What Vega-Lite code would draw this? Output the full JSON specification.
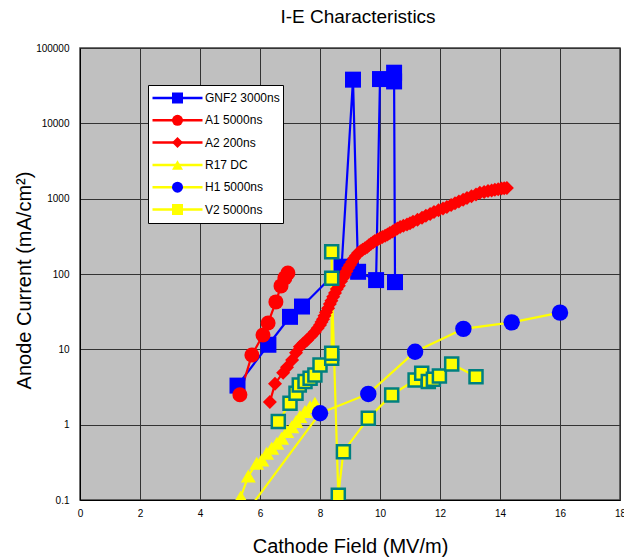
{
  "$schema": "https://vega.github.io/schema/vega-lite/v6.json",
  "autosize": {"type": "none"},
  "width": 540,
  "height": 452,
  "padding": {"left": 80, "top": 48, "right": 4, "bottom": 60},
  "background": "#FFFFFF",
  "title": {"text": "I-E Characteristics", "fontSize": 19, "font": "Liberation Sans", "fontWeight": "normal", "color": "#000000", "anchor": "middle", "frame": "group", "offset": 1, "baseline": "alphabetic", "dx": 8},
  "data": {"values": [
    {"s": "GNF2 3000ns", "i": 1, "x": 5.25, "y": 3.3},
    {"s": "GNF2 3000ns", "i": 2, "x": 6.28, "y": 11.5},
    {"s": "GNF2 3000ns", "i": 3, "x": 7.0, "y": 27},
    {"s": "GNF2 3000ns", "i": 4, "x": 7.4, "y": 37},
    {"s": "GNF2 3000ns", "i": 5, "x": 8.72, "y": 125},
    {"s": "GNF2 3000ns", "i": 6, "x": 9.1, "y": 38000},
    {"s": "GNF2 3000ns", "i": 7, "x": 9.27, "y": 107},
    {"s": "GNF2 3000ns", "i": 8, "x": 9.87, "y": 83},
    {"s": "GNF2 3000ns", "i": 9, "x": 10.0, "y": 38700},
    {"s": "GNF2 3000ns", "i": 10, "x": 10.47, "y": 47000},
    {"s": "GNF2 3000ns", "i": 11, "x": 10.47, "y": 36000},
    {"s": "GNF2 3000ns", "i": 12, "x": 10.5, "y": 78},
    {"s": "A1 5000ns", "i": 1, "x": 5.33, "y": 2.5},
    {"s": "A1 5000ns", "i": 2, "x": 5.73, "y": 8.4},
    {"s": "A1 5000ns", "i": 3, "x": 6.1, "y": 15.5},
    {"s": "A1 5000ns", "i": 4, "x": 6.27, "y": 22.4},
    {"s": "A1 5000ns", "i": 5, "x": 6.53, "y": 42.6},
    {"s": "A1 5000ns", "i": 6, "x": 6.7, "y": 69.5},
    {"s": "A1 5000ns", "i": 7, "x": 6.83, "y": 88.7},
    {"s": "A1 5000ns", "i": 8, "x": 6.93, "y": 103},
    {"s": "A2 200ns", "i": 1, "x": 6.33, "y": 2.0},
    {"s": "A2 200ns", "i": 2, "x": 6.5, "y": 3.5},
    {"s": "A2 200ns", "i": 3, "x": 6.77, "y": 4.9},
    {"s": "A2 200ns", "i": 4, "x": 6.9, "y": 5.8},
    {"s": "A2 200ns", "i": 5, "x": 7.07, "y": 7.2},
    {"s": "A2 200ns", "i": 6, "x": 7.2, "y": 9.0},
    {"s": "A2 200ns", "i": 7, "x": 7.33, "y": 10.8},
    {"s": "A2 200ns", "i": 8, "x": 7.45, "y": 12},
    {"s": "A2 200ns", "i": 9, "x": 7.57, "y": 13.3},
    {"s": "A2 200ns", "i": 10, "x": 7.7, "y": 15},
    {"s": "A2 200ns", "i": 11, "x": 7.83, "y": 17},
    {"s": "A2 200ns", "i": 12, "x": 7.92, "y": 19},
    {"s": "A2 200ns", "i": 13, "x": 8.0, "y": 21},
    {"s": "A2 200ns", "i": 14, "x": 8.05, "y": 23},
    {"s": "A2 200ns", "i": 15, "x": 8.1, "y": 25},
    {"s": "A2 200ns", "i": 16, "x": 8.15, "y": 28},
    {"s": "A2 200ns", "i": 17, "x": 8.2, "y": 31},
    {"s": "A2 200ns", "i": 18, "x": 8.27, "y": 35},
    {"s": "A2 200ns", "i": 19, "x": 8.33, "y": 40},
    {"s": "A2 200ns", "i": 20, "x": 8.38, "y": 44},
    {"s": "A2 200ns", "i": 21, "x": 8.44, "y": 50},
    {"s": "A2 200ns", "i": 22, "x": 8.5, "y": 56},
    {"s": "A2 200ns", "i": 23, "x": 8.56, "y": 63},
    {"s": "A2 200ns", "i": 24, "x": 8.63, "y": 70},
    {"s": "A2 200ns", "i": 25, "x": 8.7, "y": 80},
    {"s": "A2 200ns", "i": 26, "x": 8.77, "y": 89},
    {"s": "A2 200ns", "i": 27, "x": 8.83, "y": 98},
    {"s": "A2 200ns", "i": 28, "x": 8.88, "y": 108},
    {"s": "A2 200ns", "i": 29, "x": 8.94, "y": 120},
    {"s": "A2 200ns", "i": 30, "x": 9.0, "y": 132},
    {"s": "A2 200ns", "i": 31, "x": 9.07, "y": 145},
    {"s": "A2 200ns", "i": 32, "x": 9.13, "y": 160},
    {"s": "A2 200ns", "i": 33, "x": 9.2, "y": 175},
    {"s": "A2 200ns", "i": 34, "x": 9.27, "y": 190},
    {"s": "A2 200ns", "i": 35, "x": 9.35, "y": 200},
    {"s": "A2 200ns", "i": 36, "x": 9.42, "y": 210},
    {"s": "A2 200ns", "i": 37, "x": 9.5, "y": 220},
    {"s": "A2 200ns", "i": 38, "x": 9.57, "y": 229},
    {"s": "A2 200ns", "i": 39, "x": 9.63, "y": 240},
    {"s": "A2 200ns", "i": 40, "x": 9.7, "y": 252},
    {"s": "A2 200ns", "i": 41, "x": 9.77, "y": 263},
    {"s": "A2 200ns", "i": 42, "x": 9.83, "y": 275},
    {"s": "A2 200ns", "i": 43, "x": 9.92, "y": 287},
    {"s": "A2 200ns", "i": 44, "x": 10.0, "y": 298},
    {"s": "A2 200ns", "i": 45, "x": 10.08, "y": 310},
    {"s": "A2 200ns", "i": 46, "x": 10.17, "y": 321},
    {"s": "A2 200ns", "i": 47, "x": 10.25, "y": 335},
    {"s": "A2 200ns", "i": 48, "x": 10.33, "y": 350},
    {"s": "A2 200ns", "i": 49, "x": 10.42, "y": 367},
    {"s": "A2 200ns", "i": 50, "x": 10.5, "y": 385},
    {"s": "A2 200ns", "i": 51, "x": 10.58, "y": 403},
    {"s": "A2 200ns", "i": 52, "x": 10.67, "y": 422},
    {"s": "A2 200ns", "i": 53, "x": 10.78, "y": 438},
    {"s": "A2 200ns", "i": 54, "x": 10.9, "y": 455},
    {"s": "A2 200ns", "i": 55, "x": 11.0, "y": 473},
    {"s": "A2 200ns", "i": 56, "x": 11.1, "y": 492},
    {"s": "A2 200ns", "i": 57, "x": 11.25, "y": 525},
    {"s": "A2 200ns", "i": 58, "x": 11.4, "y": 560},
    {"s": "A2 200ns", "i": 59, "x": 11.53, "y": 594},
    {"s": "A2 200ns", "i": 60, "x": 11.67, "y": 628},
    {"s": "A2 200ns", "i": 61, "x": 11.8, "y": 663},
    {"s": "A2 200ns", "i": 62, "x": 11.95, "y": 700},
    {"s": "A2 200ns", "i": 63, "x": 12.1, "y": 740},
    {"s": "A2 200ns", "i": 64, "x": 12.23, "y": 778},
    {"s": "A2 200ns", "i": 65, "x": 12.37, "y": 823},
    {"s": "A2 200ns", "i": 66, "x": 12.5, "y": 870},
    {"s": "A2 200ns", "i": 67, "x": 12.63, "y": 917},
    {"s": "A2 200ns", "i": 68, "x": 12.77, "y": 964},
    {"s": "A2 200ns", "i": 69, "x": 12.9, "y": 1020},
    {"s": "A2 200ns", "i": 70, "x": 13.05, "y": 1080},
    {"s": "A2 200ns", "i": 71, "x": 13.2, "y": 1140},
    {"s": "A2 200ns", "i": 72, "x": 13.33, "y": 1194},
    {"s": "A2 200ns", "i": 73, "x": 13.47, "y": 1227},
    {"s": "A2 200ns", "i": 74, "x": 13.6, "y": 1260},
    {"s": "A2 200ns", "i": 75, "x": 13.72, "y": 1285},
    {"s": "A2 200ns", "i": 76, "x": 13.83, "y": 1309},
    {"s": "A2 200ns", "i": 77, "x": 13.94, "y": 1335},
    {"s": "A2 200ns", "i": 78, "x": 14.05, "y": 1360},
    {"s": "A2 200ns", "i": 79, "x": 14.14, "y": 1375},
    {"s": "A2 200ns", "i": 80, "x": 14.23, "y": 1390},
    {"s": "R17 DC", "i": 1, "x": 5.36, "y": 0.11},
    {"s": "R17 DC", "i": 2, "x": 5.61, "y": 0.208},
    {"s": "R17 DC", "i": 3, "x": 5.89, "y": 0.307},
    {"s": "R17 DC", "i": 4, "x": 6.06, "y": 0.34},
    {"s": "R17 DC", "i": 5, "x": 6.22, "y": 0.417},
    {"s": "R17 DC", "i": 6, "x": 6.39, "y": 0.486},
    {"s": "R17 DC", "i": 7, "x": 6.56, "y": 0.566},
    {"s": "R17 DC", "i": 8, "x": 6.72, "y": 0.66},
    {"s": "R17 DC", "i": 9, "x": 6.89, "y": 0.81},
    {"s": "R17 DC", "i": 10, "x": 7.06, "y": 0.94},
    {"s": "R17 DC", "i": 11, "x": 7.2, "y": 1.1},
    {"s": "R17 DC", "i": 12, "x": 7.33, "y": 1.28},
    {"s": "R17 DC", "i": 13, "x": 7.5, "y": 1.49},
    {"s": "R17 DC", "i": 14, "x": 7.67, "y": 1.73},
    {"s": "R17 DC", "i": 15, "x": 7.83, "y": 1.92},
    {"s": "H1 5000ns", "i": 1, "x": 5.6, "y": 0.073},
    {"s": "H1 5000ns", "i": 2, "x": 8.0, "y": 1.42},
    {"s": "H1 5000ns", "i": 3, "x": 9.61, "y": 2.56},
    {"s": "H1 5000ns", "i": 4, "x": 11.17, "y": 9.3},
    {"s": "H1 5000ns", "i": 5, "x": 12.78, "y": 18.7},
    {"s": "H1 5000ns", "i": 6, "x": 14.39, "y": 22.8},
    {"s": "H1 5000ns", "i": 7, "x": 16.0, "y": 30.7},
    {"s": "V2 5000ns", "i": 1, "x": 6.61, "y": 1.1},
    {"s": "V2 5000ns", "i": 2, "x": 7.0, "y": 1.92},
    {"s": "V2 5000ns", "i": 3, "x": 7.2, "y": 2.61},
    {"s": "V2 5000ns", "i": 4, "x": 7.31, "y": 3.37},
    {"s": "V2 5000ns", "i": 5, "x": 7.5, "y": 3.73},
    {"s": "V2 5000ns", "i": 6, "x": 7.67, "y": 4.13},
    {"s": "V2 5000ns", "i": 7, "x": 7.83, "y": 4.57},
    {"s": "V2 5000ns", "i": 8, "x": 8.0, "y": 6.21},
    {"s": "V2 5000ns", "i": 9, "x": 8.39, "y": 7.62},
    {"s": "V2 5000ns", "i": 10, "x": 8.39, "y": 8.87},
    {"s": "V2 5000ns", "i": 11, "x": 8.39, "y": 198},
    {"s": "V2 5000ns", "i": 12, "x": 8.39, "y": 87.9},
    {"s": "V2 5000ns", "i": 13, "x": 8.61, "y": 0.116},
    {"s": "V2 5000ns", "i": 14, "x": 8.78, "y": 0.438},
    {"s": "V2 5000ns", "i": 15, "x": 9.61, "y": 1.22},
    {"s": "V2 5000ns", "i": 16, "x": 10.39, "y": 2.48},
    {"s": "V2 5000ns", "i": 17, "x": 11.17, "y": 3.92},
    {"s": "V2 5000ns", "i": 18, "x": 11.39, "y": 4.81},
    {"s": "V2 5000ns", "i": 19, "x": 11.61, "y": 3.73},
    {"s": "V2 5000ns", "i": 20, "x": 11.78, "y": 4.0},
    {"s": "V2 5000ns", "i": 21, "x": 11.98, "y": 4.43},
    {"s": "V2 5000ns", "i": 22, "x": 12.39, "y": 6.4},
    {"s": "V2 5000ns", "i": 23, "x": 13.2, "y": 4.34}
  ]},
  "encoding": {
    "x": {"field": "x", "type": "quantitative",
      "scale": {"domain": [0, 18], "nice": false, "zero": false},
      "axis": {"values": [0, 2, 4, 6, 8, 10, 12, 14, 16, 18], "title": "Cathode Field (MV/m)", "labelFlush": false}},
    "y": {"field": "y", "type": "quantitative",
      "scale": {"type": "log", "domain": [0.1, 100000], "nice": false},
      "axis": {"values": [0.1, 1, 10, 100, 1000, 10000, 100000], "format": "~g", "title": "Anode Current (mA/cm²)",
        "labelPadding": 11, "titleX": -50, "titleY": 232, "titleBaseline": "alphabetic", "titleAngle": -90, "titleAlign": "center"}}
  },
  "layer": [
    {
      "mark": {"type": "line", "strokeWidth": 2.2, "clip": true},
      "encoding": {
        "color": {"field": "s", "type": "nominal",
          "sort": ["GNF2 3000ns", "A1 5000ns", "A2 200ns", "R17 DC", "H1 5000ns", "V2 5000ns"],
          "scale": {"range": ["#0000FF", "#FF0000", "#FF0000", "#FFFF00", "#FFFF00", "#FFFF00"]},
          "legend": {"title": null, "orient": "none", "legendX": 68, "legendY": 37,
            "symbolType": "stroke", "symbolSize": 2500, "symbolStrokeWidth": 2.5,
            "clipHeight": 20, "rowPadding": 2.3, "padding": 3,
            "labelFont": "Liberation Sans", "labelFontSize": 12, "labelColor": "#000000", "labelOffset": 1, "labelLimit": 0,
            "labelExpr": "datum.label + '\u00a0\u00a0\u00a0\u00a0\u00a0'",
            "fillColor": "#FFFFFF", "strokeColor": "#000000"}},
        "order": {"field": "i", "type": "quantitative"}
      }
    },
    {
      "transform": [{"filter": "datum.s === 'GNF2 3000ns'"}],
      "mark": {"type": "point", "filled": true, "opacity": 1, "size": 256, "strokeWidth": 0, "clip": true},
      "encoding": {
        "fill": {"field": "s", "type": "nominal",
          "scale": {"domain": ["GNF2 3000ns", "A1 5000ns", "A2 200ns", "R17 DC", "H1 5000ns", "V2 5000ns"],
            "range": ["#0000FF", "#FF0000", "#FF0000", "#FFFF00", "#0000FF", "#FFFF00"]},
          "legend": {"title": null, "orient": "none", "legendX": 68, "legendY": 37,
            "symbolSize": 121, "symbolStrokeWidth": 2, "symbolOffset": 20,
            "clipHeight": 20, "rowPadding": 2.3, "padding": 3,
            "labelFont": "Liberation Sans", "labelFontSize": 12, "labelExpr": "''", "labelLimit": 0,
            "zindex": 1,
            "encode": {"symbols": {"update": {"stroke": {"signal": "datum.value === 'V2 5000ns' ? '#008080' : 'transparent'"}, "opacity": {"value": 1}}}}}},
        "shape": {"field": "s", "type": "nominal",
          "scale": {"domain": ["GNF2 3000ns", "A1 5000ns", "A2 200ns", "R17 DC", "H1 5000ns", "V2 5000ns"],
            "range": ["square", "circle", "diamond", "triangle-up", "circle", "square"]}}
      }
    },
    {
      "transform": [{"filter": "datum.s === 'A1 5000ns'"}],
      "mark": {"type": "point", "filled": true, "opacity": 1, "size": 225, "strokeWidth": 0, "clip": true},
      "encoding": {"fill": {"field": "s", "type": "nominal"}, "shape": {"field": "s", "type": "nominal"}}
    },
    {
      "transform": [{"filter": "datum.s === 'A2 200ns'"}],
      "mark": {"type": "point", "filled": true, "opacity": 1, "size": 196, "strokeWidth": 0, "clip": true},
      "encoding": {"fill": {"field": "s", "type": "nominal"}, "shape": {"field": "s", "type": "nominal"}}
    },
    {
      "transform": [{"filter": "datum.s === 'R17 DC'"}],
      "mark": {"type": "point", "filled": true, "opacity": 1, "size": 225, "strokeWidth": 0, "clip": true},
      "encoding": {"fill": {"field": "s", "type": "nominal"}, "shape": {"field": "s", "type": "nominal"}}
    },
    {
      "transform": [{"filter": "datum.s === 'H1 5000ns'"}],
      "mark": {"type": "point", "filled": true, "opacity": 1, "size": 270, "strokeWidth": 0, "clip": true},
      "encoding": {"fill": {"field": "s", "type": "nominal"}, "shape": {"field": "s", "type": "nominal"}}
    },
    {
      "transform": [{"filter": "datum.s === 'V2 5000ns'"}],
      "mark": {"type": "point", "filled": true, "opacity": 1, "size": 169, "stroke": "#008080", "strokeWidth": 2.5, "clip": true},
      "encoding": {"fill": {"field": "s", "type": "nominal"}, "shape": {"field": "s", "type": "nominal"}}
    }
  ],
  "config": {
    "font": "Liberation Sans",
    "view": {"fill": "#C0C0C0", "stroke": "#404040", "strokeWidth": 1.5},
    "axis": {
      "grid": true, "gridColor": "#333333", "gridWidth": 1, "gridOpacity": 1,
      "domainColor": "#000000", "domainWidth": 1,
      "ticks": false, "labelFont": "Liberation Sans", "labelFontSize": 10, "labelColor": "#000000",
      "titleFont": "Liberation Sans", "titleFontSize": 20, "titleFontWeight": "normal", "titleColor": "#000000"
    },
    "axisX": {"labelPadding": 8, "titleY": 52, "titleBaseline": "alphabetic"}
  }
}
